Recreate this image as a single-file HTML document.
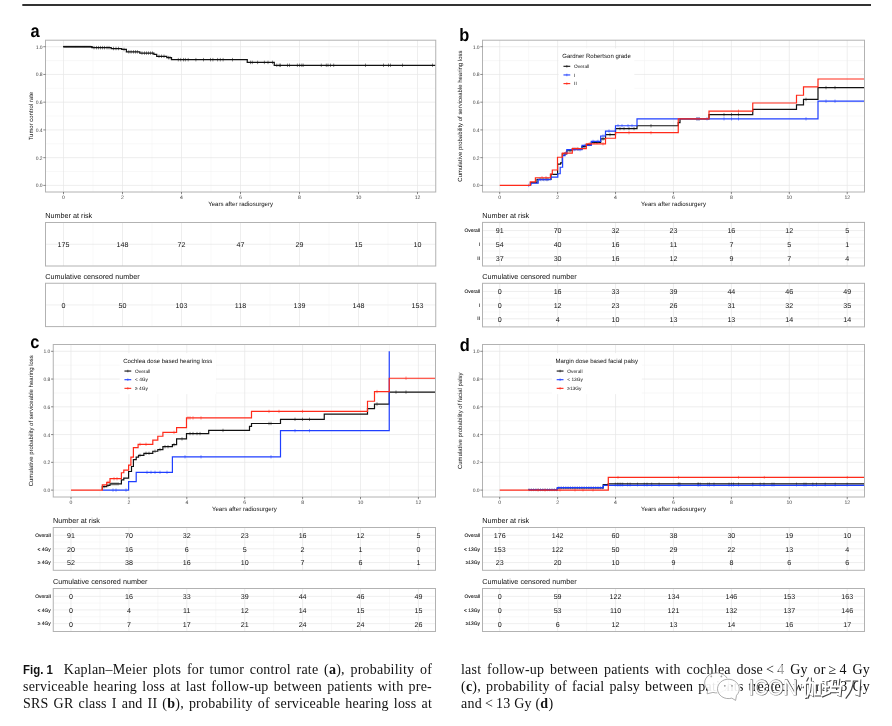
<!DOCTYPE html>
<html><head><meta charset="utf-8"><title>Fig. 1</title>
<style>
html,body{margin:0;padding:0;background:#fff;}
body{width:892px;height:726px;position:relative;overflow:hidden;font-family:"Liberation Sans", sans-serif;}
.cap{position:absolute;font-family:"Liberation Serif",serif;font-size:14px;line-height:17px;color:#111;letter-spacing:0.22px;}
.cap b.s{font-family:"Liberation Sans", sans-serif;font-weight:bold;font-size:13px;letter-spacing:0;display:inline-block;transform:scaleX(0.88);transform-origin:0 50%;margin-right:-4.5px;}
.ln{position:absolute;left:0;width:409px;white-space:nowrap;text-align:justify;text-align-last:justify;}
.ln.l{text-align:left;text-align-last:left;}
</style></head>
<body>
<svg width="892" height="726" viewBox="0 0 892 726" style="position:absolute;left:0;top:0;will-change:transform" text-rendering="geometricPrecision" font-family='"Liberation Sans", sans-serif'>
<rect x="22.3" y="4.2" width="848.7" height="1.6" fill="#000"/>
<g shape-rendering="auto">
<line x1="45.5" x2="435.75" y1="171.53" y2="171.53" stroke="#f1f1f1" stroke-width="0.5"/>
<line x1="45.5" x2="435.75" y1="143.79" y2="143.79" stroke="#f1f1f1" stroke-width="0.5"/>
<line x1="45.5" x2="435.75" y1="116.05" y2="116.05" stroke="#f1f1f1" stroke-width="0.5"/>
<line x1="45.5" x2="435.75" y1="88.31" y2="88.31" stroke="#f1f1f1" stroke-width="0.5"/>
<line x1="45.5" x2="435.75" y1="60.57" y2="60.57" stroke="#f1f1f1" stroke-width="0.5"/>
<line x1="93" x2="93" y1="40.2" y2="192" stroke="#f1f1f1" stroke-width="0.5"/>
<line x1="152" x2="152" y1="40.2" y2="192" stroke="#f1f1f1" stroke-width="0.5"/>
<line x1="211" x2="211" y1="40.2" y2="192" stroke="#f1f1f1" stroke-width="0.5"/>
<line x1="270" x2="270" y1="40.2" y2="192" stroke="#f1f1f1" stroke-width="0.5"/>
<line x1="329" x2="329" y1="40.2" y2="192" stroke="#f1f1f1" stroke-width="0.5"/>
<line x1="388" x2="388" y1="40.2" y2="192" stroke="#f1f1f1" stroke-width="0.5"/>
<line x1="45.5" x2="435.75" y1="185.4" y2="185.4" stroke="#e6e6e6" stroke-width="0.7"/>
<line x1="45.5" x2="435.75" y1="157.66" y2="157.66" stroke="#e6e6e6" stroke-width="0.7"/>
<line x1="45.5" x2="435.75" y1="129.92" y2="129.92" stroke="#e6e6e6" stroke-width="0.7"/>
<line x1="45.5" x2="435.75" y1="102.18" y2="102.18" stroke="#e6e6e6" stroke-width="0.7"/>
<line x1="45.5" x2="435.75" y1="74.44" y2="74.44" stroke="#e6e6e6" stroke-width="0.7"/>
<line x1="45.5" x2="435.75" y1="46.7" y2="46.7" stroke="#e6e6e6" stroke-width="0.7"/>
<line x1="63.5" x2="63.5" y1="40.2" y2="192" stroke="#e6e6e6" stroke-width="0.7"/>
<line x1="122.5" x2="122.5" y1="40.2" y2="192" stroke="#e6e6e6" stroke-width="0.7"/>
<line x1="181.5" x2="181.5" y1="40.2" y2="192" stroke="#e6e6e6" stroke-width="0.7"/>
<line x1="240.5" x2="240.5" y1="40.2" y2="192" stroke="#e6e6e6" stroke-width="0.7"/>
<line x1="299.5" x2="299.5" y1="40.2" y2="192" stroke="#e6e6e6" stroke-width="0.7"/>
<line x1="358.5" x2="358.5" y1="40.2" y2="192" stroke="#e6e6e6" stroke-width="0.7"/>
<line x1="417.5" x2="417.5" y1="40.2" y2="192" stroke="#e6e6e6" stroke-width="0.7"/>
</g>
<path d="M63.3 46.7H91.9V47.67" fill="none" stroke="#111" stroke-width="1.25" stroke-linejoin="miter"/>
<path d="M63.8 45.75V47.65M64.7 45.75V47.65M65.6 45.75V47.65M66.5 45.75V47.65M67.4 45.75V47.65M68.3 45.75V47.65M69.2 45.75V47.65M70.1 45.75V47.65M71 45.75V47.65M71.9 45.75V47.65M72.8 45.75V47.65M73.7 45.75V47.65M74.6 45.75V47.65M75.5 45.75V47.65M76.4 45.75V47.65M77.3 45.75V47.65M78.2 45.75V47.65M79.1 45.75V47.65M80 45.75V47.65M80.9 45.75V47.65M81.8 45.75V47.65M82.7 45.75V47.65M83.6 45.75V47.65M84.5 45.75V47.65M85.4 45.75V47.65M86.3 45.75V47.65M87.2 45.75V47.65M88.1 45.75V47.65M89 45.75V47.65M89.9 45.75V47.65M90.8 45.75V47.65" fill="none" stroke="#111" stroke-width="0.5"/>
<path d="M63.3 46.7H91.9V47.67H111.2V48.5H121.7V49.47H126.4V51.83H139.8V53.08H153.9V54.33H156.7V56.27H166.8V57.66H171.5V59.67H247.25V62.4H274.25V65.29H435.5" fill="none" stroke="#111" stroke-width="1.25" stroke-linejoin="miter"/>
<path d="M94 45.92V49.42M96.5 45.92V49.42M98.5 45.92V49.42M100.5 45.92V49.42M102.5 45.92V49.42M104.5 45.92V49.42M107 45.92V49.42M109 45.92V49.42M113.5 46.75V50.25M116 46.75V50.25M118.5 46.75V50.25M124 47.72V51.22M128.8 50.08V53.58M131.1 50.08V53.58M133.5 50.08V53.58M135.5 50.08V53.58M137.4 50.08V53.58M142 51.33V54.83M144.5 51.33V54.83M146.5 51.33V54.83M148.5 51.33V54.83M150.5 51.33V54.83M152.5 51.33V54.83M159 54.52V58.02M161.5 54.52V58.02M164 54.52V58.02M168.5 55.91V59.41M170 55.91V59.41M178.3 57.92V61.42M180.7 57.92V61.42M183.5 57.92V61.42M185.4 57.92V61.42M188.2 57.92V61.42M195.9 57.92V61.42M203.5 57.92V61.42M210.5 57.92V61.42M212.9 57.92V61.42M217.6 57.92V61.42M220.3 57.92V61.42M223.1 57.92V61.42M232.5 57.92V61.42M250.5 60.65V64.15M252.3 60.65V64.15M257.6 60.65V64.15M264.4 60.65V64.15M268 60.65V64.15M272.5 60.65V64.15M276.8 63.54V67.04M279.3 63.54V67.04M280.5 63.54V67.04M287.5 63.54V67.04M289.5 63.54V67.04M297.4 63.54V67.04M299.6 63.54V67.04M301.8 63.54V67.04M303.2 63.54V67.04M321.3 63.54V67.04M326.3 63.54V67.04M328 63.54V67.04M330.5 63.54V67.04M333.7 63.54V67.04M365.5 63.54V67.04M383.5 63.54V67.04M388.5 63.54V67.04M390.5 63.54V67.04M402.5 63.54V67.04M432.5 63.54V67.04" fill="none" stroke="#111" stroke-width="0.5"/>
<rect x="45.5" y="40.2" width="390.25" height="151.8" fill="none" stroke="#b2b2b2" stroke-width="1"/>
<line x1="43.3" x2="45.5" y1="185.4" y2="185.4" stroke="#3c3c3c" stroke-width="0.6"/>
<text x="42.6" y="187.4" font-size="5" fill="#3c3c3c" text-anchor="end">0.0</text>
<line x1="43.3" x2="45.5" y1="157.66" y2="157.66" stroke="#3c3c3c" stroke-width="0.6"/>
<text x="42.6" y="159.66" font-size="5" fill="#3c3c3c" text-anchor="end">0.2</text>
<line x1="43.3" x2="45.5" y1="129.92" y2="129.92" stroke="#3c3c3c" stroke-width="0.6"/>
<text x="42.6" y="131.92" font-size="5" fill="#3c3c3c" text-anchor="end">0.4</text>
<line x1="43.3" x2="45.5" y1="102.18" y2="102.18" stroke="#3c3c3c" stroke-width="0.6"/>
<text x="42.6" y="104.18" font-size="5" fill="#3c3c3c" text-anchor="end">0.6</text>
<line x1="43.3" x2="45.5" y1="74.44" y2="74.44" stroke="#3c3c3c" stroke-width="0.6"/>
<text x="42.6" y="76.44" font-size="5" fill="#3c3c3c" text-anchor="end">0.8</text>
<line x1="43.3" x2="45.5" y1="46.7" y2="46.7" stroke="#3c3c3c" stroke-width="0.6"/>
<text x="42.6" y="48.7" font-size="5" fill="#3c3c3c" text-anchor="end">1.0</text>
<line x1="63.5" x2="63.5" y1="192" y2="194.2" stroke="#3c3c3c" stroke-width="0.6"/>
<text x="63.5" y="198.6" font-size="5.1" fill="#3c3c3c" text-anchor="middle">0</text>
<line x1="122.5" x2="122.5" y1="192" y2="194.2" stroke="#3c3c3c" stroke-width="0.6"/>
<text x="122.5" y="198.6" font-size="5.1" fill="#3c3c3c" text-anchor="middle">2</text>
<line x1="181.5" x2="181.5" y1="192" y2="194.2" stroke="#3c3c3c" stroke-width="0.6"/>
<text x="181.5" y="198.6" font-size="5.1" fill="#3c3c3c" text-anchor="middle">4</text>
<line x1="240.5" x2="240.5" y1="192" y2="194.2" stroke="#3c3c3c" stroke-width="0.6"/>
<text x="240.5" y="198.6" font-size="5.1" fill="#3c3c3c" text-anchor="middle">6</text>
<line x1="299.5" x2="299.5" y1="192" y2="194.2" stroke="#3c3c3c" stroke-width="0.6"/>
<text x="299.5" y="198.6" font-size="5.1" fill="#3c3c3c" text-anchor="middle">8</text>
<line x1="358.5" x2="358.5" y1="192" y2="194.2" stroke="#3c3c3c" stroke-width="0.6"/>
<text x="358.5" y="198.6" font-size="5.1" fill="#3c3c3c" text-anchor="middle">10</text>
<line x1="417.5" x2="417.5" y1="192" y2="194.2" stroke="#3c3c3c" stroke-width="0.6"/>
<text x="417.5" y="198.6" font-size="5.1" fill="#3c3c3c" text-anchor="middle">12</text>
<text x="240.62" y="205.5" font-size="6.12" fill="#111" text-anchor="middle">Years after radiosurgery</text>
<text transform="translate(33.3 116.1) rotate(-90)" font-size="5.97" fill="#111" text-anchor="middle">Tumor control rate</text>
<text transform="translate(30.5 37) scale(0.91 1)" font-size="18" font-weight="bold" fill="#000">a</text>
<text x="45.2" y="218.3" font-size="7.24" fill="#111">Number at risk</text>
<line x1="93" x2="93" y1="222.5" y2="266" stroke="#f1f1f1" stroke-width="0.5"/>
<line x1="152" x2="152" y1="222.5" y2="266" stroke="#f1f1f1" stroke-width="0.5"/>
<line x1="211" x2="211" y1="222.5" y2="266" stroke="#f1f1f1" stroke-width="0.5"/>
<line x1="270" x2="270" y1="222.5" y2="266" stroke="#f1f1f1" stroke-width="0.5"/>
<line x1="329" x2="329" y1="222.5" y2="266" stroke="#f1f1f1" stroke-width="0.5"/>
<line x1="388" x2="388" y1="222.5" y2="266" stroke="#f1f1f1" stroke-width="0.5"/>
<line x1="63.5" x2="63.5" y1="222.5" y2="266" stroke="#e6e6e6" stroke-width="0.7"/>
<line x1="122.5" x2="122.5" y1="222.5" y2="266" stroke="#e6e6e6" stroke-width="0.7"/>
<line x1="181.5" x2="181.5" y1="222.5" y2="266" stroke="#e6e6e6" stroke-width="0.7"/>
<line x1="240.5" x2="240.5" y1="222.5" y2="266" stroke="#e6e6e6" stroke-width="0.7"/>
<line x1="299.5" x2="299.5" y1="222.5" y2="266" stroke="#e6e6e6" stroke-width="0.7"/>
<line x1="358.5" x2="358.5" y1="222.5" y2="266" stroke="#e6e6e6" stroke-width="0.7"/>
<line x1="417.5" x2="417.5" y1="222.5" y2="266" stroke="#e6e6e6" stroke-width="0.7"/>
<line x1="45.5" x2="435.75" y1="244.25" y2="244.25" stroke="#e6e6e6" stroke-width="0.7"/>
<rect x="45.5" y="222.5" width="390.25" height="43.5" fill="none" stroke="#b2b2b2" stroke-width="1"/>
<text x="63.5" y="247.1" font-size="7.1" fill="#111" text-anchor="middle">175</text>
<text x="122.5" y="247.1" font-size="7.1" fill="#111" text-anchor="middle">148</text>
<text x="181.5" y="247.1" font-size="7.1" fill="#111" text-anchor="middle">72</text>
<text x="240.5" y="247.1" font-size="7.1" fill="#111" text-anchor="middle">47</text>
<text x="299.5" y="247.1" font-size="7.1" fill="#111" text-anchor="middle">29</text>
<text x="358.5" y="247.1" font-size="7.1" fill="#111" text-anchor="middle">15</text>
<text x="417.5" y="247.1" font-size="7.1" fill="#111" text-anchor="middle">10</text>
<text x="45.2" y="279.05" font-size="7.24" fill="#111">Cumulative censored number</text>
<line x1="93" x2="93" y1="283.25" y2="326.6" stroke="#f1f1f1" stroke-width="0.5"/>
<line x1="152" x2="152" y1="283.25" y2="326.6" stroke="#f1f1f1" stroke-width="0.5"/>
<line x1="211" x2="211" y1="283.25" y2="326.6" stroke="#f1f1f1" stroke-width="0.5"/>
<line x1="270" x2="270" y1="283.25" y2="326.6" stroke="#f1f1f1" stroke-width="0.5"/>
<line x1="329" x2="329" y1="283.25" y2="326.6" stroke="#f1f1f1" stroke-width="0.5"/>
<line x1="388" x2="388" y1="283.25" y2="326.6" stroke="#f1f1f1" stroke-width="0.5"/>
<line x1="63.5" x2="63.5" y1="283.25" y2="326.6" stroke="#e6e6e6" stroke-width="0.7"/>
<line x1="122.5" x2="122.5" y1="283.25" y2="326.6" stroke="#e6e6e6" stroke-width="0.7"/>
<line x1="181.5" x2="181.5" y1="283.25" y2="326.6" stroke="#e6e6e6" stroke-width="0.7"/>
<line x1="240.5" x2="240.5" y1="283.25" y2="326.6" stroke="#e6e6e6" stroke-width="0.7"/>
<line x1="299.5" x2="299.5" y1="283.25" y2="326.6" stroke="#e6e6e6" stroke-width="0.7"/>
<line x1="358.5" x2="358.5" y1="283.25" y2="326.6" stroke="#e6e6e6" stroke-width="0.7"/>
<line x1="417.5" x2="417.5" y1="283.25" y2="326.6" stroke="#e6e6e6" stroke-width="0.7"/>
<line x1="45.5" x2="435.75" y1="304.93" y2="304.93" stroke="#e6e6e6" stroke-width="0.7"/>
<rect x="45.5" y="283.25" width="390.25" height="43.35" fill="none" stroke="#b2b2b2" stroke-width="1"/>
<text x="63.5" y="307.78" font-size="7.1" fill="#111" text-anchor="middle">0</text>
<text x="122.5" y="307.78" font-size="7.1" fill="#111" text-anchor="middle">50</text>
<text x="181.5" y="307.78" font-size="7.1" fill="#111" text-anchor="middle">103</text>
<text x="240.5" y="307.78" font-size="7.1" fill="#111" text-anchor="middle">118</text>
<text x="299.5" y="307.78" font-size="7.1" fill="#111" text-anchor="middle">139</text>
<text x="358.5" y="307.78" font-size="7.1" fill="#111" text-anchor="middle">148</text>
<text x="417.5" y="307.78" font-size="7.1" fill="#111" text-anchor="middle">153</text>
<g shape-rendering="auto">
<line x1="482.5" x2="864.5" y1="171.53" y2="171.53" stroke="#f1f1f1" stroke-width="0.5"/>
<line x1="482.5" x2="864.5" y1="143.79" y2="143.79" stroke="#f1f1f1" stroke-width="0.5"/>
<line x1="482.5" x2="864.5" y1="116.05" y2="116.05" stroke="#f1f1f1" stroke-width="0.5"/>
<line x1="482.5" x2="864.5" y1="88.31" y2="88.31" stroke="#f1f1f1" stroke-width="0.5"/>
<line x1="482.5" x2="864.5" y1="60.57" y2="60.57" stroke="#f1f1f1" stroke-width="0.5"/>
<line x1="528.66" x2="528.66" y1="40.2" y2="192" stroke="#f1f1f1" stroke-width="0.5"/>
<line x1="586.58" x2="586.58" y1="40.2" y2="192" stroke="#f1f1f1" stroke-width="0.5"/>
<line x1="644.5" x2="644.5" y1="40.2" y2="192" stroke="#f1f1f1" stroke-width="0.5"/>
<line x1="702.42" x2="702.42" y1="40.2" y2="192" stroke="#f1f1f1" stroke-width="0.5"/>
<line x1="760.34" x2="760.34" y1="40.2" y2="192" stroke="#f1f1f1" stroke-width="0.5"/>
<line x1="818.26" x2="818.26" y1="40.2" y2="192" stroke="#f1f1f1" stroke-width="0.5"/>
<line x1="482.5" x2="864.5" y1="185.4" y2="185.4" stroke="#e6e6e6" stroke-width="0.7"/>
<line x1="482.5" x2="864.5" y1="157.66" y2="157.66" stroke="#e6e6e6" stroke-width="0.7"/>
<line x1="482.5" x2="864.5" y1="129.92" y2="129.92" stroke="#e6e6e6" stroke-width="0.7"/>
<line x1="482.5" x2="864.5" y1="102.18" y2="102.18" stroke="#e6e6e6" stroke-width="0.7"/>
<line x1="482.5" x2="864.5" y1="74.44" y2="74.44" stroke="#e6e6e6" stroke-width="0.7"/>
<line x1="482.5" x2="864.5" y1="46.7" y2="46.7" stroke="#e6e6e6" stroke-width="0.7"/>
<line x1="499.7" x2="499.7" y1="40.2" y2="192" stroke="#e6e6e6" stroke-width="0.7"/>
<line x1="557.62" x2="557.62" y1="40.2" y2="192" stroke="#e6e6e6" stroke-width="0.7"/>
<line x1="615.54" x2="615.54" y1="40.2" y2="192" stroke="#e6e6e6" stroke-width="0.7"/>
<line x1="673.46" x2="673.46" y1="40.2" y2="192" stroke="#e6e6e6" stroke-width="0.7"/>
<line x1="731.38" x2="731.38" y1="40.2" y2="192" stroke="#e6e6e6" stroke-width="0.7"/>
<line x1="789.3" x2="789.3" y1="40.2" y2="192" stroke="#e6e6e6" stroke-width="0.7"/>
<line x1="847.22" x2="847.22" y1="40.2" y2="192" stroke="#e6e6e6" stroke-width="0.7"/>
</g>
<rect x="558.75" y="48.4" width="75.6" height="41" fill="#fff"/>
<text x="562.25" y="58.1" font-size="6.03" fill="#111">Gardner Robertson grade</text>
<line x1="563.45" x2="570.25" y1="66.3" y2="66.3" stroke="#111" stroke-width="1.1"/>
<line x1="566.85" x2="566.85" y1="65" y2="67.6" stroke="#111" stroke-width="0.6"/>
<text x="574.05" y="67.9" font-size="4.8" fill="#111">Overall</text>
<line x1="563.45" x2="570.25" y1="74.95" y2="74.95" stroke="#1f3fff" stroke-width="1.1"/>
<line x1="566.85" x2="566.85" y1="73.65" y2="76.25" stroke="#1f3fff" stroke-width="0.6"/>
<text x="574.05" y="76.55" font-size="4.8" fill="#111">I</text>
<line x1="563.45" x2="570.25" y1="83.6" y2="83.6" stroke="#ff2a1a" stroke-width="1.1"/>
<line x1="566.85" x2="566.85" y1="82.3" y2="84.9" stroke="#ff2a1a" stroke-width="0.6"/>
<text x="574.05" y="85.2" font-size="4.8" fill="#111">II</text>
<path d="M530.5 185.4H530.5V182.63H537V179.3H551V174.3H557.6V164.18H560.6V162.79H562.3V153.78H566.8V150.73H572.3V149.06H582V146.56H586.3V144.48H591.3V142.4H600.7V138.94H605.5V134.64H615.5V128.53H637V125.76H678.25V122.71H680V118.82H709V114.66H752.75V109.39H796.5V104.95H803.5V99.41H818V87.62H864.3" fill="none" stroke="#111" stroke-width="1.2" stroke-linejoin="miter"/>
<path d="M540 177.6V181M543 177.6V181M546 177.6V181M548 177.6V181M565 152.08V155.48M570 149.03V152.43M575 147.36V150.76M578 147.36V150.76M584 144.86V148.26M589 142.78V146.18M594 140.7V144.1M597 140.7V144.1M603 137.24V140.64M610 132.94V136.34M620 126.83V130.23M624 126.83V130.23M629 126.83V130.23M634 126.83V130.23M651 124.06V127.46M697 117.12V120.52M699 117.12V120.52M724 112.96V116.36M731.5 112.96V116.36M738.5 112.96V116.36M806 97.71V101.11M826 85.92V89.32M835 85.92V89.32" fill="none" stroke="#111" stroke-width="0.5"/>
<path d="M531 185.4H531V183.04H538.2V179.57H550.6V177.22H557.8V173.75H560.2V167.23H562.6V155.58H565V153.22H566.8V149.62H582V145.45H591.3V141.43H600.7V136.02H605.5V131.03H615.5V125.76H637V118.82H818V101.21H864.3" fill="none" stroke="#1f3fff" stroke-width="1.2" stroke-linejoin="miter"/>
<path d="M528.7 183.7V187.1M541 177.87V181.27M544 177.87V181.27M547 177.87V181.27M566 151.52V154.92M574 147.92V151.32M580 147.92V151.32M585 143.75V147.15M593 139.73V143.13M598 139.73V143.13M603 134.32V137.72M609 129.33V132.73M618 124.06V127.46M622 124.06V127.46M628 124.06V127.46M632 124.06V127.46M697 117.12V120.52M699 117.12V120.52M707 117.12V120.52M724 117.12V120.52M731.5 117.12V120.52M738.5 117.12V120.52M806 117.12V120.52M826 99.51V102.91M835 99.51V102.91" fill="none" stroke="#1f3fff" stroke-width="0.5"/>
<path d="M499.7 185.4H530.3V181.79H535.4V177.77H550.4V174.17H552.3V170H557.5V157.24H562.3V153.08H572.3V148.64H586.3V143.79H605.5V138.24H615.5V132.69H678.25V118.82H709V111.2H752.75V103.01H796.5V95.25H803.5V86.92H818V79.02H864.3" fill="none" stroke="#ff2a1a" stroke-width="1.2" stroke-linejoin="miter"/>
<path d="M542 176.07V179.47M546 176.07V179.47M566 151.38V154.78M573 146.94V150.34M577 146.94V150.34M590 142.09V145.49M603 142.09V145.49M629 130.99V134.39M651 130.99V134.39M738.5 109.5V112.9" fill="none" stroke="#ff2a1a" stroke-width="0.5"/>
<rect x="482.5" y="40.2" width="382" height="151.8" fill="none" stroke="#b2b2b2" stroke-width="1"/>
<line x1="480.3" x2="482.5" y1="185.4" y2="185.4" stroke="#3c3c3c" stroke-width="0.6"/>
<text x="479.6" y="187.4" font-size="5" fill="#3c3c3c" text-anchor="end">0.0</text>
<line x1="480.3" x2="482.5" y1="157.66" y2="157.66" stroke="#3c3c3c" stroke-width="0.6"/>
<text x="479.6" y="159.66" font-size="5" fill="#3c3c3c" text-anchor="end">0.2</text>
<line x1="480.3" x2="482.5" y1="129.92" y2="129.92" stroke="#3c3c3c" stroke-width="0.6"/>
<text x="479.6" y="131.92" font-size="5" fill="#3c3c3c" text-anchor="end">0.4</text>
<line x1="480.3" x2="482.5" y1="102.18" y2="102.18" stroke="#3c3c3c" stroke-width="0.6"/>
<text x="479.6" y="104.18" font-size="5" fill="#3c3c3c" text-anchor="end">0.6</text>
<line x1="480.3" x2="482.5" y1="74.44" y2="74.44" stroke="#3c3c3c" stroke-width="0.6"/>
<text x="479.6" y="76.44" font-size="5" fill="#3c3c3c" text-anchor="end">0.8</text>
<line x1="480.3" x2="482.5" y1="46.7" y2="46.7" stroke="#3c3c3c" stroke-width="0.6"/>
<text x="479.6" y="48.7" font-size="5" fill="#3c3c3c" text-anchor="end">1.0</text>
<line x1="499.7" x2="499.7" y1="192" y2="194.2" stroke="#3c3c3c" stroke-width="0.6"/>
<text x="499.7" y="198.6" font-size="5.1" fill="#3c3c3c" text-anchor="middle">0</text>
<line x1="557.62" x2="557.62" y1="192" y2="194.2" stroke="#3c3c3c" stroke-width="0.6"/>
<text x="557.62" y="198.6" font-size="5.1" fill="#3c3c3c" text-anchor="middle">2</text>
<line x1="615.54" x2="615.54" y1="192" y2="194.2" stroke="#3c3c3c" stroke-width="0.6"/>
<text x="615.54" y="198.6" font-size="5.1" fill="#3c3c3c" text-anchor="middle">4</text>
<line x1="673.46" x2="673.46" y1="192" y2="194.2" stroke="#3c3c3c" stroke-width="0.6"/>
<text x="673.46" y="198.6" font-size="5.1" fill="#3c3c3c" text-anchor="middle">6</text>
<line x1="731.38" x2="731.38" y1="192" y2="194.2" stroke="#3c3c3c" stroke-width="0.6"/>
<text x="731.38" y="198.6" font-size="5.1" fill="#3c3c3c" text-anchor="middle">8</text>
<line x1="789.3" x2="789.3" y1="192" y2="194.2" stroke="#3c3c3c" stroke-width="0.6"/>
<text x="789.3" y="198.6" font-size="5.1" fill="#3c3c3c" text-anchor="middle">10</text>
<line x1="847.22" x2="847.22" y1="192" y2="194.2" stroke="#3c3c3c" stroke-width="0.6"/>
<text x="847.22" y="198.6" font-size="5.1" fill="#3c3c3c" text-anchor="middle">12</text>
<text x="673.5" y="205.5" font-size="6.12" fill="#111" text-anchor="middle">Years after radiosurgery</text>
<text transform="translate(461.7 116.1) rotate(-90)" font-size="5.97" fill="#111" text-anchor="middle">Cumulative probability of serviceable hearing loss</text>
<text transform="translate(459.3 40.9) scale(0.91 1)" font-size="18" font-weight="bold" fill="#000">b</text>
<text x="482.2" y="218.2" font-size="7.24" fill="#111">Number at risk</text>
<line x1="528.66" x2="528.66" y1="222.4" y2="266" stroke="#f1f1f1" stroke-width="0.5"/>
<line x1="586.58" x2="586.58" y1="222.4" y2="266" stroke="#f1f1f1" stroke-width="0.5"/>
<line x1="644.5" x2="644.5" y1="222.4" y2="266" stroke="#f1f1f1" stroke-width="0.5"/>
<line x1="702.42" x2="702.42" y1="222.4" y2="266" stroke="#f1f1f1" stroke-width="0.5"/>
<line x1="760.34" x2="760.34" y1="222.4" y2="266" stroke="#f1f1f1" stroke-width="0.5"/>
<line x1="818.26" x2="818.26" y1="222.4" y2="266" stroke="#f1f1f1" stroke-width="0.5"/>
<line x1="482.5" x2="864.5" y1="237.32" y2="237.32" stroke="#f1f1f1" stroke-width="0.5"/>
<line x1="482.5" x2="864.5" y1="250.97" y2="250.97" stroke="#f1f1f1" stroke-width="0.5"/>
<line x1="499.7" x2="499.7" y1="222.4" y2="266" stroke="#e6e6e6" stroke-width="0.7"/>
<line x1="557.62" x2="557.62" y1="222.4" y2="266" stroke="#e6e6e6" stroke-width="0.7"/>
<line x1="615.54" x2="615.54" y1="222.4" y2="266" stroke="#e6e6e6" stroke-width="0.7"/>
<line x1="673.46" x2="673.46" y1="222.4" y2="266" stroke="#e6e6e6" stroke-width="0.7"/>
<line x1="731.38" x2="731.38" y1="222.4" y2="266" stroke="#e6e6e6" stroke-width="0.7"/>
<line x1="789.3" x2="789.3" y1="222.4" y2="266" stroke="#e6e6e6" stroke-width="0.7"/>
<line x1="847.22" x2="847.22" y1="222.4" y2="266" stroke="#e6e6e6" stroke-width="0.7"/>
<line x1="482.5" x2="864.5" y1="230.55" y2="230.55" stroke="#e6e6e6" stroke-width="0.7"/>
<line x1="482.5" x2="864.5" y1="244.1" y2="244.1" stroke="#e6e6e6" stroke-width="0.7"/>
<line x1="482.5" x2="864.5" y1="257.85" y2="257.85" stroke="#e6e6e6" stroke-width="0.7"/>
<rect x="482.5" y="222.4" width="382" height="43.6" fill="none" stroke="#b2b2b2" stroke-width="1"/>
<text x="499.7" y="233.4" font-size="7.1" fill="#111" text-anchor="middle">91</text>
<text x="557.62" y="233.4" font-size="7.1" fill="#111" text-anchor="middle">70</text>
<text x="615.54" y="233.4" font-size="7.1" fill="#111" text-anchor="middle">32</text>
<text x="673.46" y="233.4" font-size="7.1" fill="#111" text-anchor="middle">23</text>
<text x="731.38" y="233.4" font-size="7.1" fill="#111" text-anchor="middle">16</text>
<text x="789.3" y="233.4" font-size="7.1" fill="#111" text-anchor="middle">12</text>
<text x="847.22" y="233.4" font-size="7.1" fill="#111" text-anchor="middle">5</text>
<text x="480" y="232.25" font-size="4.9" fill="#111" stroke="#111" stroke-width="0.1" text-anchor="end">Overall</text>
<text x="499.7" y="246.95" font-size="7.1" fill="#111" text-anchor="middle">54</text>
<text x="557.62" y="246.95" font-size="7.1" fill="#111" text-anchor="middle">40</text>
<text x="615.54" y="246.95" font-size="7.1" fill="#111" text-anchor="middle">16</text>
<text x="673.46" y="246.95" font-size="7.1" fill="#111" text-anchor="middle">11</text>
<text x="731.38" y="246.95" font-size="7.1" fill="#111" text-anchor="middle">7</text>
<text x="789.3" y="246.95" font-size="7.1" fill="#111" text-anchor="middle">5</text>
<text x="847.22" y="246.95" font-size="7.1" fill="#111" text-anchor="middle">1</text>
<text x="480" y="245.8" font-size="4.9" fill="#111" stroke="#111" stroke-width="0.1" text-anchor="end">I</text>
<text x="499.7" y="260.7" font-size="7.1" fill="#111" text-anchor="middle">37</text>
<text x="557.62" y="260.7" font-size="7.1" fill="#111" text-anchor="middle">30</text>
<text x="615.54" y="260.7" font-size="7.1" fill="#111" text-anchor="middle">16</text>
<text x="673.46" y="260.7" font-size="7.1" fill="#111" text-anchor="middle">12</text>
<text x="731.38" y="260.7" font-size="7.1" fill="#111" text-anchor="middle">9</text>
<text x="789.3" y="260.7" font-size="7.1" fill="#111" text-anchor="middle">7</text>
<text x="847.22" y="260.7" font-size="7.1" fill="#111" text-anchor="middle">4</text>
<text x="480" y="259.55" font-size="4.9" fill="#111" stroke="#111" stroke-width="0.1" text-anchor="end">II</text>
<text x="482.2" y="279.1" font-size="7.24" fill="#111">Cumulative censored number</text>
<line x1="528.66" x2="528.66" y1="283.3" y2="326.9" stroke="#f1f1f1" stroke-width="0.5"/>
<line x1="586.58" x2="586.58" y1="283.3" y2="326.9" stroke="#f1f1f1" stroke-width="0.5"/>
<line x1="644.5" x2="644.5" y1="283.3" y2="326.9" stroke="#f1f1f1" stroke-width="0.5"/>
<line x1="702.42" x2="702.42" y1="283.3" y2="326.9" stroke="#f1f1f1" stroke-width="0.5"/>
<line x1="760.34" x2="760.34" y1="283.3" y2="326.9" stroke="#f1f1f1" stroke-width="0.5"/>
<line x1="818.26" x2="818.26" y1="283.3" y2="326.9" stroke="#f1f1f1" stroke-width="0.5"/>
<line x1="482.5" x2="864.5" y1="298.23" y2="298.23" stroke="#f1f1f1" stroke-width="0.5"/>
<line x1="482.5" x2="864.5" y1="311.88" y2="311.88" stroke="#f1f1f1" stroke-width="0.5"/>
<line x1="499.7" x2="499.7" y1="283.3" y2="326.9" stroke="#e6e6e6" stroke-width="0.7"/>
<line x1="557.62" x2="557.62" y1="283.3" y2="326.9" stroke="#e6e6e6" stroke-width="0.7"/>
<line x1="615.54" x2="615.54" y1="283.3" y2="326.9" stroke="#e6e6e6" stroke-width="0.7"/>
<line x1="673.46" x2="673.46" y1="283.3" y2="326.9" stroke="#e6e6e6" stroke-width="0.7"/>
<line x1="731.38" x2="731.38" y1="283.3" y2="326.9" stroke="#e6e6e6" stroke-width="0.7"/>
<line x1="789.3" x2="789.3" y1="283.3" y2="326.9" stroke="#e6e6e6" stroke-width="0.7"/>
<line x1="847.22" x2="847.22" y1="283.3" y2="326.9" stroke="#e6e6e6" stroke-width="0.7"/>
<line x1="482.5" x2="864.5" y1="291.45" y2="291.45" stroke="#e6e6e6" stroke-width="0.7"/>
<line x1="482.5" x2="864.5" y1="305" y2="305" stroke="#e6e6e6" stroke-width="0.7"/>
<line x1="482.5" x2="864.5" y1="318.75" y2="318.75" stroke="#e6e6e6" stroke-width="0.7"/>
<rect x="482.5" y="283.3" width="382" height="43.6" fill="none" stroke="#b2b2b2" stroke-width="1"/>
<text x="499.7" y="294.3" font-size="7.1" fill="#111" text-anchor="middle">0</text>
<text x="557.62" y="294.3" font-size="7.1" fill="#111" text-anchor="middle">16</text>
<text x="615.54" y="294.3" font-size="7.1" fill="#111" text-anchor="middle">33</text>
<text x="673.46" y="294.3" font-size="7.1" fill="#111" text-anchor="middle">39</text>
<text x="731.38" y="294.3" font-size="7.1" fill="#111" text-anchor="middle">44</text>
<text x="789.3" y="294.3" font-size="7.1" fill="#111" text-anchor="middle">46</text>
<text x="847.22" y="294.3" font-size="7.1" fill="#111" text-anchor="middle">49</text>
<text x="480" y="293.15" font-size="4.9" fill="#111" stroke="#111" stroke-width="0.1" text-anchor="end">Overall</text>
<text x="499.7" y="307.85" font-size="7.1" fill="#111" text-anchor="middle">0</text>
<text x="557.62" y="307.85" font-size="7.1" fill="#111" text-anchor="middle">12</text>
<text x="615.54" y="307.85" font-size="7.1" fill="#111" text-anchor="middle">23</text>
<text x="673.46" y="307.85" font-size="7.1" fill="#111" text-anchor="middle">26</text>
<text x="731.38" y="307.85" font-size="7.1" fill="#111" text-anchor="middle">31</text>
<text x="789.3" y="307.85" font-size="7.1" fill="#111" text-anchor="middle">32</text>
<text x="847.22" y="307.85" font-size="7.1" fill="#111" text-anchor="middle">35</text>
<text x="480" y="306.7" font-size="4.9" fill="#111" stroke="#111" stroke-width="0.1" text-anchor="end">I</text>
<text x="499.7" y="321.6" font-size="7.1" fill="#111" text-anchor="middle">0</text>
<text x="557.62" y="321.6" font-size="7.1" fill="#111" text-anchor="middle">4</text>
<text x="615.54" y="321.6" font-size="7.1" fill="#111" text-anchor="middle">10</text>
<text x="673.46" y="321.6" font-size="7.1" fill="#111" text-anchor="middle">13</text>
<text x="731.38" y="321.6" font-size="7.1" fill="#111" text-anchor="middle">13</text>
<text x="789.3" y="321.6" font-size="7.1" fill="#111" text-anchor="middle">14</text>
<text x="847.22" y="321.6" font-size="7.1" fill="#111" text-anchor="middle">14</text>
<text x="480" y="320.45" font-size="4.9" fill="#111" stroke="#111" stroke-width="0.1" text-anchor="end">II</text>
<g shape-rendering="auto">
<line x1="53.25" x2="435.5" y1="476.22" y2="476.22" stroke="#f1f1f1" stroke-width="0.5"/>
<line x1="53.25" x2="435.5" y1="448.46" y2="448.46" stroke="#f1f1f1" stroke-width="0.5"/>
<line x1="53.25" x2="435.5" y1="420.7" y2="420.7" stroke="#f1f1f1" stroke-width="0.5"/>
<line x1="53.25" x2="435.5" y1="392.94" y2="392.94" stroke="#f1f1f1" stroke-width="0.5"/>
<line x1="53.25" x2="435.5" y1="365.18" y2="365.18" stroke="#f1f1f1" stroke-width="0.5"/>
<line x1="99.95" x2="99.95" y1="344.5" y2="497" stroke="#f1f1f1" stroke-width="0.5"/>
<line x1="157.85" x2="157.85" y1="344.5" y2="497" stroke="#f1f1f1" stroke-width="0.5"/>
<line x1="215.75" x2="215.75" y1="344.5" y2="497" stroke="#f1f1f1" stroke-width="0.5"/>
<line x1="273.65" x2="273.65" y1="344.5" y2="497" stroke="#f1f1f1" stroke-width="0.5"/>
<line x1="331.55" x2="331.55" y1="344.5" y2="497" stroke="#f1f1f1" stroke-width="0.5"/>
<line x1="389.45" x2="389.45" y1="344.5" y2="497" stroke="#f1f1f1" stroke-width="0.5"/>
<line x1="53.25" x2="435.5" y1="490.1" y2="490.1" stroke="#e6e6e6" stroke-width="0.7"/>
<line x1="53.25" x2="435.5" y1="462.34" y2="462.34" stroke="#e6e6e6" stroke-width="0.7"/>
<line x1="53.25" x2="435.5" y1="434.58" y2="434.58" stroke="#e6e6e6" stroke-width="0.7"/>
<line x1="53.25" x2="435.5" y1="406.82" y2="406.82" stroke="#e6e6e6" stroke-width="0.7"/>
<line x1="53.25" x2="435.5" y1="379.06" y2="379.06" stroke="#e6e6e6" stroke-width="0.7"/>
<line x1="53.25" x2="435.5" y1="351.3" y2="351.3" stroke="#e6e6e6" stroke-width="0.7"/>
<line x1="71" x2="71" y1="344.5" y2="497" stroke="#e6e6e6" stroke-width="0.7"/>
<line x1="128.9" x2="128.9" y1="344.5" y2="497" stroke="#e6e6e6" stroke-width="0.7"/>
<line x1="186.8" x2="186.8" y1="344.5" y2="497" stroke="#e6e6e6" stroke-width="0.7"/>
<line x1="244.7" x2="244.7" y1="344.5" y2="497" stroke="#e6e6e6" stroke-width="0.7"/>
<line x1="302.6" x2="302.6" y1="344.5" y2="497" stroke="#e6e6e6" stroke-width="0.7"/>
<line x1="360.5" x2="360.5" y1="344.5" y2="497" stroke="#e6e6e6" stroke-width="0.7"/>
<line x1="418.4" x2="418.4" y1="344.5" y2="497" stroke="#e6e6e6" stroke-width="0.7"/>
</g>
<rect x="119.75" y="353.15" width="96.3" height="41" fill="#fff"/>
<text x="123.25" y="362.85" font-size="6.03" fill="#111">Cochlea dose based hearing loss</text>
<line x1="124.45" x2="131.25" y1="371.05" y2="371.05" stroke="#111" stroke-width="1.1"/>
<line x1="127.85" x2="127.85" y1="369.75" y2="372.35" stroke="#111" stroke-width="0.6"/>
<text x="135.05" y="372.65" font-size="4.8" fill="#111">Overall</text>
<line x1="124.45" x2="131.25" y1="379.7" y2="379.7" stroke="#1f3fff" stroke-width="1.1"/>
<line x1="127.85" x2="127.85" y1="378.4" y2="381" stroke="#1f3fff" stroke-width="0.6"/>
<text x="135.05" y="381.3" font-size="4.8" fill="#111">&lt; 4Gy</text>
<line x1="124.45" x2="131.25" y1="388.35" y2="388.35" stroke="#ff2a1a" stroke-width="1.1"/>
<line x1="127.85" x2="127.85" y1="387.05" y2="389.65" stroke="#ff2a1a" stroke-width="0.6"/>
<text x="135.05" y="389.95" font-size="4.8" fill="#111">≥ 4Gy</text>
<path d="M102.3 490.1H102.3V486.63H106.7V485.38H110V483.85H121.4V479.97H123.8V478.16H128.6V471.5H131.5V466.5H133.4V459.56H136.2V457.2H138.5V455.4H143.9V453.32H152.8V451.24H157.8V449.57H162.9V446.66H172.4V444.71H176.6V438.88H186.5V433.61H208.7V430.42H249.5V426.39H251.5V423.48H280.5V419.31H324.25V414.18H367.5V408.62H374.5V404.04H389.25V392.11H435.3" fill="none" stroke="#111" stroke-width="1.2" stroke-linejoin="miter"/>
<path d="M104 484.93V488.33M108 483.68V487.08M112 482.15V485.55M114 482.15V485.55M116 482.15V485.55M118 482.15V485.55M140 453.7V457.1M146 451.62V455.02M149 451.62V455.02M155 449.54V452.94M160 447.87V451.27M165 444.96V448.36M168 444.96V448.36M174 443.01V446.41M182 437.18V440.58M190 431.91V435.31M193 431.91V435.31M197 431.91V435.31M200 431.91V435.31M223 428.72V432.12M269 421.78V425.18M271 421.78V425.18M295 417.61V421.01M302.5 417.61V421.01M309.5 417.61V421.01M377 402.34V405.74M396 390.41V393.81M406 390.41V393.81" fill="none" stroke="#111" stroke-width="0.5"/>
<path d="M102.3 490.1H102.3V490.1H128.6V481.63H136.2V472.33H172.4V456.79H280.5V430.69H389.25V351.3" fill="none" stroke="#1f3fff" stroke-width="1.2" stroke-linejoin="miter"/>
<path d="M113 488.4V491.8M116 488.4V491.8M126 488.4V491.8M147 470.63V474.03M151 470.63V474.03M155 470.63V474.03M160 470.63V474.03M167 470.63V474.03M185 455.09V458.49M201 455.09V458.49M271 455.09V458.49M295 428.99V432.39M309.5 428.99V432.39" fill="none" stroke="#1f3fff" stroke-width="0.5"/>
<path d="M71 490.1H102.3V484.83H106.7V482.33H110V478.72H121.4V472.75H123.8V470.11H128.6V465.12H130.9V457.2H133.4V447.63H138.1V444.3H152.8V440.13H157.8V436.25H162.9V432.36H176.6V427.64H186.5V417.92H251.5V411.4H367.5V401.27H374.5V391.55H389.25V378.23H435.3" fill="none" stroke="#ff2a1a" stroke-width="1.2" stroke-linejoin="miter"/>
<path d="M108 480.63V484.03M114 477.02V480.42M117 477.02V480.42M140 442.6V446M146 442.6V446M174 430.66V434.06M188 416.22V419.62M190 416.22V419.62M193 416.22V419.62M201 416.22V419.62M269 409.7V413.1M279 409.7V413.1M302.5 409.7V413.1M377 389.85V393.25M406 376.53V379.93" fill="none" stroke="#ff2a1a" stroke-width="0.5"/>
<rect x="53.25" y="344.5" width="382.25" height="152.5" fill="none" stroke="#b2b2b2" stroke-width="1"/>
<line x1="51.05" x2="53.25" y1="490.1" y2="490.1" stroke="#3c3c3c" stroke-width="0.6"/>
<text x="50.35" y="492.1" font-size="5" fill="#3c3c3c" text-anchor="end">0.0</text>
<line x1="51.05" x2="53.25" y1="462.34" y2="462.34" stroke="#3c3c3c" stroke-width="0.6"/>
<text x="50.35" y="464.34" font-size="5" fill="#3c3c3c" text-anchor="end">0.2</text>
<line x1="51.05" x2="53.25" y1="434.58" y2="434.58" stroke="#3c3c3c" stroke-width="0.6"/>
<text x="50.35" y="436.58" font-size="5" fill="#3c3c3c" text-anchor="end">0.4</text>
<line x1="51.05" x2="53.25" y1="406.82" y2="406.82" stroke="#3c3c3c" stroke-width="0.6"/>
<text x="50.35" y="408.82" font-size="5" fill="#3c3c3c" text-anchor="end">0.6</text>
<line x1="51.05" x2="53.25" y1="379.06" y2="379.06" stroke="#3c3c3c" stroke-width="0.6"/>
<text x="50.35" y="381.06" font-size="5" fill="#3c3c3c" text-anchor="end">0.8</text>
<line x1="51.05" x2="53.25" y1="351.3" y2="351.3" stroke="#3c3c3c" stroke-width="0.6"/>
<text x="50.35" y="353.3" font-size="5" fill="#3c3c3c" text-anchor="end">1.0</text>
<line x1="71" x2="71" y1="497" y2="499.2" stroke="#3c3c3c" stroke-width="0.6"/>
<text x="71" y="503.6" font-size="5.1" fill="#3c3c3c" text-anchor="middle">0</text>
<line x1="128.9" x2="128.9" y1="497" y2="499.2" stroke="#3c3c3c" stroke-width="0.6"/>
<text x="128.9" y="503.6" font-size="5.1" fill="#3c3c3c" text-anchor="middle">2</text>
<line x1="186.8" x2="186.8" y1="497" y2="499.2" stroke="#3c3c3c" stroke-width="0.6"/>
<text x="186.8" y="503.6" font-size="5.1" fill="#3c3c3c" text-anchor="middle">4</text>
<line x1="244.7" x2="244.7" y1="497" y2="499.2" stroke="#3c3c3c" stroke-width="0.6"/>
<text x="244.7" y="503.6" font-size="5.1" fill="#3c3c3c" text-anchor="middle">6</text>
<line x1="302.6" x2="302.6" y1="497" y2="499.2" stroke="#3c3c3c" stroke-width="0.6"/>
<text x="302.6" y="503.6" font-size="5.1" fill="#3c3c3c" text-anchor="middle">8</text>
<line x1="360.5" x2="360.5" y1="497" y2="499.2" stroke="#3c3c3c" stroke-width="0.6"/>
<text x="360.5" y="503.6" font-size="5.1" fill="#3c3c3c" text-anchor="middle">10</text>
<line x1="418.4" x2="418.4" y1="497" y2="499.2" stroke="#3c3c3c" stroke-width="0.6"/>
<text x="418.4" y="503.6" font-size="5.1" fill="#3c3c3c" text-anchor="middle">12</text>
<text x="244.38" y="510.5" font-size="6.12" fill="#111" text-anchor="middle">Years after radiosurgery</text>
<text transform="translate(33 420.75) rotate(-90)" font-size="5.97" fill="#111" text-anchor="middle">Cumulative probability of serviceable hearing loss</text>
<text transform="translate(30.3 347.9) scale(0.91 1)" font-size="18" font-weight="bold" fill="#000">c</text>
<text x="52.95" y="523.3" font-size="7.24" fill="#111">Number at risk</text>
<line x1="99.95" x2="99.95" y1="527.5" y2="570.3" stroke="#f1f1f1" stroke-width="0.5"/>
<line x1="157.85" x2="157.85" y1="527.5" y2="570.3" stroke="#f1f1f1" stroke-width="0.5"/>
<line x1="215.75" x2="215.75" y1="527.5" y2="570.3" stroke="#f1f1f1" stroke-width="0.5"/>
<line x1="273.65" x2="273.65" y1="527.5" y2="570.3" stroke="#f1f1f1" stroke-width="0.5"/>
<line x1="331.55" x2="331.55" y1="527.5" y2="570.3" stroke="#f1f1f1" stroke-width="0.5"/>
<line x1="389.45" x2="389.45" y1="527.5" y2="570.3" stroke="#f1f1f1" stroke-width="0.5"/>
<line x1="53.25" x2="435.5" y1="542.02" y2="542.02" stroke="#f1f1f1" stroke-width="0.5"/>
<line x1="53.25" x2="435.5" y1="555.67" y2="555.67" stroke="#f1f1f1" stroke-width="0.5"/>
<line x1="71" x2="71" y1="527.5" y2="570.3" stroke="#e6e6e6" stroke-width="0.7"/>
<line x1="128.9" x2="128.9" y1="527.5" y2="570.3" stroke="#e6e6e6" stroke-width="0.7"/>
<line x1="186.8" x2="186.8" y1="527.5" y2="570.3" stroke="#e6e6e6" stroke-width="0.7"/>
<line x1="244.7" x2="244.7" y1="527.5" y2="570.3" stroke="#e6e6e6" stroke-width="0.7"/>
<line x1="302.6" x2="302.6" y1="527.5" y2="570.3" stroke="#e6e6e6" stroke-width="0.7"/>
<line x1="360.5" x2="360.5" y1="527.5" y2="570.3" stroke="#e6e6e6" stroke-width="0.7"/>
<line x1="418.4" x2="418.4" y1="527.5" y2="570.3" stroke="#e6e6e6" stroke-width="0.7"/>
<line x1="53.25" x2="435.5" y1="535.25" y2="535.25" stroke="#e6e6e6" stroke-width="0.7"/>
<line x1="53.25" x2="435.5" y1="548.8" y2="548.8" stroke="#e6e6e6" stroke-width="0.7"/>
<line x1="53.25" x2="435.5" y1="562.55" y2="562.55" stroke="#e6e6e6" stroke-width="0.7"/>
<rect x="53.25" y="527.5" width="382.25" height="42.8" fill="none" stroke="#b2b2b2" stroke-width="1"/>
<text x="71" y="538.1" font-size="7.1" fill="#111" text-anchor="middle">91</text>
<text x="128.9" y="538.1" font-size="7.1" fill="#111" text-anchor="middle">70</text>
<text x="186.8" y="538.1" font-size="7.1" fill="#111" text-anchor="middle">32</text>
<text x="244.7" y="538.1" font-size="7.1" fill="#111" text-anchor="middle">23</text>
<text x="302.6" y="538.1" font-size="7.1" fill="#111" text-anchor="middle">16</text>
<text x="360.5" y="538.1" font-size="7.1" fill="#111" text-anchor="middle">12</text>
<text x="418.4" y="538.1" font-size="7.1" fill="#111" text-anchor="middle">5</text>
<text x="50.75" y="536.95" font-size="4.9" fill="#111" stroke="#111" stroke-width="0.1" text-anchor="end">Overall</text>
<text x="71" y="551.65" font-size="7.1" fill="#111" text-anchor="middle">20</text>
<text x="128.9" y="551.65" font-size="7.1" fill="#111" text-anchor="middle">16</text>
<text x="186.8" y="551.65" font-size="7.1" fill="#111" text-anchor="middle">6</text>
<text x="244.7" y="551.65" font-size="7.1" fill="#111" text-anchor="middle">5</text>
<text x="302.6" y="551.65" font-size="7.1" fill="#111" text-anchor="middle">2</text>
<text x="360.5" y="551.65" font-size="7.1" fill="#111" text-anchor="middle">1</text>
<text x="418.4" y="551.65" font-size="7.1" fill="#111" text-anchor="middle">0</text>
<text x="50.75" y="550.5" font-size="4.9" fill="#111" stroke="#111" stroke-width="0.1" text-anchor="end">&lt; 4Gy</text>
<text x="71" y="565.4" font-size="7.1" fill="#111" text-anchor="middle">52</text>
<text x="128.9" y="565.4" font-size="7.1" fill="#111" text-anchor="middle">38</text>
<text x="186.8" y="565.4" font-size="7.1" fill="#111" text-anchor="middle">16</text>
<text x="244.7" y="565.4" font-size="7.1" fill="#111" text-anchor="middle">10</text>
<text x="302.6" y="565.4" font-size="7.1" fill="#111" text-anchor="middle">7</text>
<text x="360.5" y="565.4" font-size="7.1" fill="#111" text-anchor="middle">6</text>
<text x="418.4" y="565.4" font-size="7.1" fill="#111" text-anchor="middle">1</text>
<text x="50.75" y="564.25" font-size="4.9" fill="#111" stroke="#111" stroke-width="0.1" text-anchor="end">≥ 4Gy</text>
<text x="52.95" y="584.3" font-size="7.24" fill="#111">Cumulative censored number</text>
<line x1="99.95" x2="99.95" y1="588.5" y2="631.5" stroke="#f1f1f1" stroke-width="0.5"/>
<line x1="157.85" x2="157.85" y1="588.5" y2="631.5" stroke="#f1f1f1" stroke-width="0.5"/>
<line x1="215.75" x2="215.75" y1="588.5" y2="631.5" stroke="#f1f1f1" stroke-width="0.5"/>
<line x1="273.65" x2="273.65" y1="588.5" y2="631.5" stroke="#f1f1f1" stroke-width="0.5"/>
<line x1="331.55" x2="331.55" y1="588.5" y2="631.5" stroke="#f1f1f1" stroke-width="0.5"/>
<line x1="389.45" x2="389.45" y1="588.5" y2="631.5" stroke="#f1f1f1" stroke-width="0.5"/>
<line x1="53.25" x2="435.5" y1="603.12" y2="603.12" stroke="#f1f1f1" stroke-width="0.5"/>
<line x1="53.25" x2="435.5" y1="616.77" y2="616.77" stroke="#f1f1f1" stroke-width="0.5"/>
<line x1="71" x2="71" y1="588.5" y2="631.5" stroke="#e6e6e6" stroke-width="0.7"/>
<line x1="128.9" x2="128.9" y1="588.5" y2="631.5" stroke="#e6e6e6" stroke-width="0.7"/>
<line x1="186.8" x2="186.8" y1="588.5" y2="631.5" stroke="#e6e6e6" stroke-width="0.7"/>
<line x1="244.7" x2="244.7" y1="588.5" y2="631.5" stroke="#e6e6e6" stroke-width="0.7"/>
<line x1="302.6" x2="302.6" y1="588.5" y2="631.5" stroke="#e6e6e6" stroke-width="0.7"/>
<line x1="360.5" x2="360.5" y1="588.5" y2="631.5" stroke="#e6e6e6" stroke-width="0.7"/>
<line x1="418.4" x2="418.4" y1="588.5" y2="631.5" stroke="#e6e6e6" stroke-width="0.7"/>
<line x1="53.25" x2="435.5" y1="596.35" y2="596.35" stroke="#e6e6e6" stroke-width="0.7"/>
<line x1="53.25" x2="435.5" y1="609.9" y2="609.9" stroke="#e6e6e6" stroke-width="0.7"/>
<line x1="53.25" x2="435.5" y1="623.65" y2="623.65" stroke="#e6e6e6" stroke-width="0.7"/>
<rect x="53.25" y="588.5" width="382.25" height="43" fill="none" stroke="#b2b2b2" stroke-width="1"/>
<text x="71" y="599.2" font-size="7.1" fill="#111" text-anchor="middle">0</text>
<text x="128.9" y="599.2" font-size="7.1" fill="#111" text-anchor="middle">16</text>
<text x="186.8" y="599.2" font-size="7.1" fill="#111" text-anchor="middle">33</text>
<text x="244.7" y="599.2" font-size="7.1" fill="#111" text-anchor="middle">39</text>
<text x="302.6" y="599.2" font-size="7.1" fill="#111" text-anchor="middle">44</text>
<text x="360.5" y="599.2" font-size="7.1" fill="#111" text-anchor="middle">46</text>
<text x="418.4" y="599.2" font-size="7.1" fill="#111" text-anchor="middle">49</text>
<text x="50.75" y="598.05" font-size="4.9" fill="#111" stroke="#111" stroke-width="0.1" text-anchor="end">Overall</text>
<text x="71" y="612.75" font-size="7.1" fill="#111" text-anchor="middle">0</text>
<text x="128.9" y="612.75" font-size="7.1" fill="#111" text-anchor="middle">4</text>
<text x="186.8" y="612.75" font-size="7.1" fill="#111" text-anchor="middle">11</text>
<text x="244.7" y="612.75" font-size="7.1" fill="#111" text-anchor="middle">12</text>
<text x="302.6" y="612.75" font-size="7.1" fill="#111" text-anchor="middle">14</text>
<text x="360.5" y="612.75" font-size="7.1" fill="#111" text-anchor="middle">15</text>
<text x="418.4" y="612.75" font-size="7.1" fill="#111" text-anchor="middle">15</text>
<text x="50.75" y="611.6" font-size="4.9" fill="#111" stroke="#111" stroke-width="0.1" text-anchor="end">&lt; 4Gy</text>
<text x="71" y="626.5" font-size="7.1" fill="#111" text-anchor="middle">0</text>
<text x="128.9" y="626.5" font-size="7.1" fill="#111" text-anchor="middle">7</text>
<text x="186.8" y="626.5" font-size="7.1" fill="#111" text-anchor="middle">17</text>
<text x="244.7" y="626.5" font-size="7.1" fill="#111" text-anchor="middle">21</text>
<text x="302.6" y="626.5" font-size="7.1" fill="#111" text-anchor="middle">24</text>
<text x="360.5" y="626.5" font-size="7.1" fill="#111" text-anchor="middle">24</text>
<text x="418.4" y="626.5" font-size="7.1" fill="#111" text-anchor="middle">26</text>
<text x="50.75" y="625.35" font-size="4.9" fill="#111" stroke="#111" stroke-width="0.1" text-anchor="end">≥ 4Gy</text>
<g shape-rendering="auto">
<line x1="482.5" x2="864.5" y1="476.22" y2="476.22" stroke="#f1f1f1" stroke-width="0.5"/>
<line x1="482.5" x2="864.5" y1="448.46" y2="448.46" stroke="#f1f1f1" stroke-width="0.5"/>
<line x1="482.5" x2="864.5" y1="420.7" y2="420.7" stroke="#f1f1f1" stroke-width="0.5"/>
<line x1="482.5" x2="864.5" y1="392.94" y2="392.94" stroke="#f1f1f1" stroke-width="0.5"/>
<line x1="482.5" x2="864.5" y1="365.18" y2="365.18" stroke="#f1f1f1" stroke-width="0.5"/>
<line x1="528.66" x2="528.66" y1="344.5" y2="497" stroke="#f1f1f1" stroke-width="0.5"/>
<line x1="586.58" x2="586.58" y1="344.5" y2="497" stroke="#f1f1f1" stroke-width="0.5"/>
<line x1="644.5" x2="644.5" y1="344.5" y2="497" stroke="#f1f1f1" stroke-width="0.5"/>
<line x1="702.42" x2="702.42" y1="344.5" y2="497" stroke="#f1f1f1" stroke-width="0.5"/>
<line x1="760.34" x2="760.34" y1="344.5" y2="497" stroke="#f1f1f1" stroke-width="0.5"/>
<line x1="818.26" x2="818.26" y1="344.5" y2="497" stroke="#f1f1f1" stroke-width="0.5"/>
<line x1="482.5" x2="864.5" y1="490.1" y2="490.1" stroke="#e6e6e6" stroke-width="0.7"/>
<line x1="482.5" x2="864.5" y1="462.34" y2="462.34" stroke="#e6e6e6" stroke-width="0.7"/>
<line x1="482.5" x2="864.5" y1="434.58" y2="434.58" stroke="#e6e6e6" stroke-width="0.7"/>
<line x1="482.5" x2="864.5" y1="406.82" y2="406.82" stroke="#e6e6e6" stroke-width="0.7"/>
<line x1="482.5" x2="864.5" y1="379.06" y2="379.06" stroke="#e6e6e6" stroke-width="0.7"/>
<line x1="482.5" x2="864.5" y1="351.3" y2="351.3" stroke="#e6e6e6" stroke-width="0.7"/>
<line x1="499.7" x2="499.7" y1="344.5" y2="497" stroke="#e6e6e6" stroke-width="0.7"/>
<line x1="557.62" x2="557.62" y1="344.5" y2="497" stroke="#e6e6e6" stroke-width="0.7"/>
<line x1="615.54" x2="615.54" y1="344.5" y2="497" stroke="#e6e6e6" stroke-width="0.7"/>
<line x1="673.46" x2="673.46" y1="344.5" y2="497" stroke="#e6e6e6" stroke-width="0.7"/>
<line x1="731.38" x2="731.38" y1="344.5" y2="497" stroke="#e6e6e6" stroke-width="0.7"/>
<line x1="789.3" x2="789.3" y1="344.5" y2="497" stroke="#e6e6e6" stroke-width="0.7"/>
<line x1="847.22" x2="847.22" y1="344.5" y2="497" stroke="#e6e6e6" stroke-width="0.7"/>
</g>
<rect x="552" y="353.15" width="89.8" height="41" fill="#fff"/>
<text x="555.5" y="362.85" font-size="6.03" fill="#111">Margin dose based facial palsy</text>
<line x1="556.7" x2="563.5" y1="371.05" y2="371.05" stroke="#111" stroke-width="1.1"/>
<line x1="560.1" x2="560.1" y1="369.75" y2="372.35" stroke="#111" stroke-width="0.6"/>
<text x="567.3" y="372.65" font-size="4.8" fill="#111">Overall</text>
<line x1="556.7" x2="563.5" y1="379.7" y2="379.7" stroke="#1f3fff" stroke-width="1.1"/>
<line x1="560.1" x2="560.1" y1="378.4" y2="381" stroke="#1f3fff" stroke-width="0.6"/>
<text x="567.3" y="381.3" font-size="4.8" fill="#111">&lt; 13Gy</text>
<line x1="556.7" x2="563.5" y1="388.35" y2="388.35" stroke="#ff2a1a" stroke-width="1.1"/>
<line x1="560.1" x2="560.1" y1="387.05" y2="389.65" stroke="#ff2a1a" stroke-width="0.6"/>
<text x="567.3" y="389.95" font-size="4.8" fill="#111">≥13Gy</text>
<path d="M529 490.1H529V489.82H557.4V487.88H603.3V484.55H608.3V483.78H864.3" fill="none" stroke="#111" stroke-width="1.3" stroke-linejoin="miter"/>
<path d="M529 488.52V491.12M531.3 488.52V491.12M533.6 488.52V491.12M535.9 488.52V491.12M538.2 488.52V491.12M540.5 488.52V491.12M542.8 488.52V491.12M545.1 488.52V491.12M547.4 488.52V491.12M549.7 488.52V491.12M552 488.52V491.12M554.3 488.52V491.12M556.6 488.52V491.12M558.9 486.58V489.18M561.2 486.58V489.18M563.5 486.58V489.18M565.8 486.58V489.18M568.1 486.58V489.18M570.4 486.58V489.18M572.7 486.58V489.18M575 486.58V489.18M577.3 486.58V489.18M579.6 486.58V489.18M581.9 486.58V489.18M584.2 486.58V489.18M586.5 486.58V489.18M588.8 486.58V489.18M591.1 486.58V489.18M593.4 486.58V489.18M595.7 486.58V489.18M598 486.58V489.18M600.3 486.58V489.18M602.6 486.58V489.18M615.3 482.48V485.08M617.4 482.48V485.08M619 482.48V485.08M620.8 482.48V485.08M622.7 482.48V485.08M627.6 482.48V485.08M630.1 482.48V485.08M637.5 482.48V485.08M644.3 482.48V485.08M647 482.48V485.08M651.7 482.48V485.08M659.1 482.48V485.08M678.2 482.48V485.08M679 482.48V485.08M680 482.48V485.08M697.8 482.48V485.08M698.5 482.48V485.08M700.2 482.48V485.08M707.8 482.48V485.08M709.5 482.48V485.08M714 482.48V485.08M729 482.48V485.08M731.5 482.48V485.08M733.5 482.48V485.08M738.5 482.48V485.08M752.8 482.48V485.08M760.2 482.48V485.08M764 482.48V485.08M772 482.48V485.08M774 482.48V485.08M796.5 482.48V485.08M804 482.48V485.08M806 482.48V485.08M812.8 482.48V485.08M816.5 482.48V485.08M825.2 482.48V485.08M835.2 482.48V485.08M847.2 482.48V485.08" fill="none" stroke="#111" stroke-width="0.4"/>
<path d="M529 490.1H529V489.82H557.4V487.74H603.3V485.31H864.3" fill="none" stroke="#1f3fff" stroke-width="1.25" stroke-linejoin="miter"/>
<path d="M529 488.52V491.12M531.3 488.52V491.12M533.6 488.52V491.12M535.9 488.52V491.12M538.2 488.52V491.12M540.5 488.52V491.12M542.8 488.52V491.12M545.1 488.52V491.12M547.4 488.52V491.12M549.7 488.52V491.12M552 488.52V491.12M554.3 488.52V491.12M556.6 488.52V491.12M558.9 486.44V489.04M561.2 486.44V489.04M563.5 486.44V489.04M565.8 486.44V489.04M568.1 486.44V489.04M570.4 486.44V489.04M572.7 486.44V489.04M575 486.44V489.04M577.3 486.44V489.04M579.6 486.44V489.04M581.9 486.44V489.04M584.2 486.44V489.04M586.5 486.44V489.04M588.8 486.44V489.04M591.1 486.44V489.04M593.4 486.44V489.04M595.7 486.44V489.04M598 486.44V489.04M600.3 486.44V489.04M602.6 486.44V489.04M615.3 484.01V486.61M617.4 484.01V486.61M619 484.01V486.61M620.8 484.01V486.61M622.7 484.01V486.61M627.6 484.01V486.61M630.1 484.01V486.61M637.5 484.01V486.61M644.3 484.01V486.61M647 484.01V486.61M651.7 484.01V486.61M659.1 484.01V486.61M678.2 484.01V486.61M679 484.01V486.61M680 484.01V486.61M697.8 484.01V486.61M698.5 484.01V486.61M700.2 484.01V486.61M707.8 484.01V486.61M709.5 484.01V486.61M714 484.01V486.61M729 484.01V486.61M731.5 484.01V486.61M733.5 484.01V486.61M738.5 484.01V486.61M752.8 484.01V486.61M760.2 484.01V486.61M764 484.01V486.61M772 484.01V486.61M774 484.01V486.61M796.5 484.01V486.61M804 484.01V486.61M806 484.01V486.61M812.8 484.01V486.61M816.5 484.01V486.61M825.2 484.01V486.61M835.2 484.01V486.61M847.2 484.01V486.61" fill="none" stroke="#1f3fff" stroke-width="0.4"/>
<path d="M499.7 490.1H608.3V477.33H864.3" fill="none" stroke="#ff2a1a" stroke-width="1.25" stroke-linejoin="miter"/>
<path d="M538 488.7V491.5M545 488.7V491.5M560 488.7V491.5M575 488.7V491.5M583 488.7V491.5M593 488.7V491.5M618 475.93V478.73M678.5 475.93V478.73M738.5 475.93V478.73M764.3 475.93V478.73M847.3 475.93V478.73" fill="none" stroke="#ff2a1a" stroke-width="0.5"/>
<rect x="482.5" y="344.5" width="382" height="152.5" fill="none" stroke="#b2b2b2" stroke-width="1"/>
<line x1="480.3" x2="482.5" y1="490.1" y2="490.1" stroke="#3c3c3c" stroke-width="0.6"/>
<text x="479.6" y="492.1" font-size="5" fill="#3c3c3c" text-anchor="end">0.0</text>
<line x1="480.3" x2="482.5" y1="462.34" y2="462.34" stroke="#3c3c3c" stroke-width="0.6"/>
<text x="479.6" y="464.34" font-size="5" fill="#3c3c3c" text-anchor="end">0.2</text>
<line x1="480.3" x2="482.5" y1="434.58" y2="434.58" stroke="#3c3c3c" stroke-width="0.6"/>
<text x="479.6" y="436.58" font-size="5" fill="#3c3c3c" text-anchor="end">0.4</text>
<line x1="480.3" x2="482.5" y1="406.82" y2="406.82" stroke="#3c3c3c" stroke-width="0.6"/>
<text x="479.6" y="408.82" font-size="5" fill="#3c3c3c" text-anchor="end">0.6</text>
<line x1="480.3" x2="482.5" y1="379.06" y2="379.06" stroke="#3c3c3c" stroke-width="0.6"/>
<text x="479.6" y="381.06" font-size="5" fill="#3c3c3c" text-anchor="end">0.8</text>
<line x1="480.3" x2="482.5" y1="351.3" y2="351.3" stroke="#3c3c3c" stroke-width="0.6"/>
<text x="479.6" y="353.3" font-size="5" fill="#3c3c3c" text-anchor="end">1.0</text>
<line x1="499.7" x2="499.7" y1="497" y2="499.2" stroke="#3c3c3c" stroke-width="0.6"/>
<text x="499.7" y="503.6" font-size="5.1" fill="#3c3c3c" text-anchor="middle">0</text>
<line x1="557.62" x2="557.62" y1="497" y2="499.2" stroke="#3c3c3c" stroke-width="0.6"/>
<text x="557.62" y="503.6" font-size="5.1" fill="#3c3c3c" text-anchor="middle">2</text>
<line x1="615.54" x2="615.54" y1="497" y2="499.2" stroke="#3c3c3c" stroke-width="0.6"/>
<text x="615.54" y="503.6" font-size="5.1" fill="#3c3c3c" text-anchor="middle">4</text>
<line x1="673.46" x2="673.46" y1="497" y2="499.2" stroke="#3c3c3c" stroke-width="0.6"/>
<text x="673.46" y="503.6" font-size="5.1" fill="#3c3c3c" text-anchor="middle">6</text>
<line x1="731.38" x2="731.38" y1="497" y2="499.2" stroke="#3c3c3c" stroke-width="0.6"/>
<text x="731.38" y="503.6" font-size="5.1" fill="#3c3c3c" text-anchor="middle">8</text>
<line x1="789.3" x2="789.3" y1="497" y2="499.2" stroke="#3c3c3c" stroke-width="0.6"/>
<text x="789.3" y="503.6" font-size="5.1" fill="#3c3c3c" text-anchor="middle">10</text>
<line x1="847.22" x2="847.22" y1="497" y2="499.2" stroke="#3c3c3c" stroke-width="0.6"/>
<text x="847.22" y="503.6" font-size="5.1" fill="#3c3c3c" text-anchor="middle">12</text>
<text x="673.5" y="510.5" font-size="6.12" fill="#111" text-anchor="middle">Years after radiosurgery</text>
<text transform="translate(461.7 420.75) rotate(-90)" font-size="5.97" fill="#111" text-anchor="middle">Cumulative probability of facial palsy</text>
<text transform="translate(459.7 351) scale(0.91 1)" font-size="18" font-weight="bold" fill="#000">d</text>
<text x="482.2" y="523.3" font-size="7.24" fill="#111">Number at risk</text>
<line x1="528.66" x2="528.66" y1="527.5" y2="570.3" stroke="#f1f1f1" stroke-width="0.5"/>
<line x1="586.58" x2="586.58" y1="527.5" y2="570.3" stroke="#f1f1f1" stroke-width="0.5"/>
<line x1="644.5" x2="644.5" y1="527.5" y2="570.3" stroke="#f1f1f1" stroke-width="0.5"/>
<line x1="702.42" x2="702.42" y1="527.5" y2="570.3" stroke="#f1f1f1" stroke-width="0.5"/>
<line x1="760.34" x2="760.34" y1="527.5" y2="570.3" stroke="#f1f1f1" stroke-width="0.5"/>
<line x1="818.26" x2="818.26" y1="527.5" y2="570.3" stroke="#f1f1f1" stroke-width="0.5"/>
<line x1="482.5" x2="864.5" y1="542.02" y2="542.02" stroke="#f1f1f1" stroke-width="0.5"/>
<line x1="482.5" x2="864.5" y1="555.67" y2="555.67" stroke="#f1f1f1" stroke-width="0.5"/>
<line x1="499.7" x2="499.7" y1="527.5" y2="570.3" stroke="#e6e6e6" stroke-width="0.7"/>
<line x1="557.62" x2="557.62" y1="527.5" y2="570.3" stroke="#e6e6e6" stroke-width="0.7"/>
<line x1="615.54" x2="615.54" y1="527.5" y2="570.3" stroke="#e6e6e6" stroke-width="0.7"/>
<line x1="673.46" x2="673.46" y1="527.5" y2="570.3" stroke="#e6e6e6" stroke-width="0.7"/>
<line x1="731.38" x2="731.38" y1="527.5" y2="570.3" stroke="#e6e6e6" stroke-width="0.7"/>
<line x1="789.3" x2="789.3" y1="527.5" y2="570.3" stroke="#e6e6e6" stroke-width="0.7"/>
<line x1="847.22" x2="847.22" y1="527.5" y2="570.3" stroke="#e6e6e6" stroke-width="0.7"/>
<line x1="482.5" x2="864.5" y1="535.25" y2="535.25" stroke="#e6e6e6" stroke-width="0.7"/>
<line x1="482.5" x2="864.5" y1="548.8" y2="548.8" stroke="#e6e6e6" stroke-width="0.7"/>
<line x1="482.5" x2="864.5" y1="562.55" y2="562.55" stroke="#e6e6e6" stroke-width="0.7"/>
<rect x="482.5" y="527.5" width="382" height="42.8" fill="none" stroke="#b2b2b2" stroke-width="1"/>
<text x="499.7" y="538.1" font-size="7.1" fill="#111" text-anchor="middle">176</text>
<text x="557.62" y="538.1" font-size="7.1" fill="#111" text-anchor="middle">142</text>
<text x="615.54" y="538.1" font-size="7.1" fill="#111" text-anchor="middle">60</text>
<text x="673.46" y="538.1" font-size="7.1" fill="#111" text-anchor="middle">38</text>
<text x="731.38" y="538.1" font-size="7.1" fill="#111" text-anchor="middle">30</text>
<text x="789.3" y="538.1" font-size="7.1" fill="#111" text-anchor="middle">19</text>
<text x="847.22" y="538.1" font-size="7.1" fill="#111" text-anchor="middle">10</text>
<text x="480" y="536.95" font-size="4.9" fill="#111" stroke="#111" stroke-width="0.1" text-anchor="end">Overall</text>
<text x="499.7" y="551.65" font-size="7.1" fill="#111" text-anchor="middle">153</text>
<text x="557.62" y="551.65" font-size="7.1" fill="#111" text-anchor="middle">122</text>
<text x="615.54" y="551.65" font-size="7.1" fill="#111" text-anchor="middle">50</text>
<text x="673.46" y="551.65" font-size="7.1" fill="#111" text-anchor="middle">29</text>
<text x="731.38" y="551.65" font-size="7.1" fill="#111" text-anchor="middle">22</text>
<text x="789.3" y="551.65" font-size="7.1" fill="#111" text-anchor="middle">13</text>
<text x="847.22" y="551.65" font-size="7.1" fill="#111" text-anchor="middle">4</text>
<text x="480" y="550.5" font-size="4.9" fill="#111" stroke="#111" stroke-width="0.1" text-anchor="end">&lt; 13Gy</text>
<text x="499.7" y="565.4" font-size="7.1" fill="#111" text-anchor="middle">23</text>
<text x="557.62" y="565.4" font-size="7.1" fill="#111" text-anchor="middle">20</text>
<text x="615.54" y="565.4" font-size="7.1" fill="#111" text-anchor="middle">10</text>
<text x="673.46" y="565.4" font-size="7.1" fill="#111" text-anchor="middle">9</text>
<text x="731.38" y="565.4" font-size="7.1" fill="#111" text-anchor="middle">8</text>
<text x="789.3" y="565.4" font-size="7.1" fill="#111" text-anchor="middle">6</text>
<text x="847.22" y="565.4" font-size="7.1" fill="#111" text-anchor="middle">6</text>
<text x="480" y="564.25" font-size="4.9" fill="#111" stroke="#111" stroke-width="0.1" text-anchor="end">≥13Gy</text>
<text x="482.2" y="584.3" font-size="7.24" fill="#111">Cumulative censored number</text>
<line x1="528.66" x2="528.66" y1="588.5" y2="631.5" stroke="#f1f1f1" stroke-width="0.5"/>
<line x1="586.58" x2="586.58" y1="588.5" y2="631.5" stroke="#f1f1f1" stroke-width="0.5"/>
<line x1="644.5" x2="644.5" y1="588.5" y2="631.5" stroke="#f1f1f1" stroke-width="0.5"/>
<line x1="702.42" x2="702.42" y1="588.5" y2="631.5" stroke="#f1f1f1" stroke-width="0.5"/>
<line x1="760.34" x2="760.34" y1="588.5" y2="631.5" stroke="#f1f1f1" stroke-width="0.5"/>
<line x1="818.26" x2="818.26" y1="588.5" y2="631.5" stroke="#f1f1f1" stroke-width="0.5"/>
<line x1="482.5" x2="864.5" y1="603.12" y2="603.12" stroke="#f1f1f1" stroke-width="0.5"/>
<line x1="482.5" x2="864.5" y1="616.77" y2="616.77" stroke="#f1f1f1" stroke-width="0.5"/>
<line x1="499.7" x2="499.7" y1="588.5" y2="631.5" stroke="#e6e6e6" stroke-width="0.7"/>
<line x1="557.62" x2="557.62" y1="588.5" y2="631.5" stroke="#e6e6e6" stroke-width="0.7"/>
<line x1="615.54" x2="615.54" y1="588.5" y2="631.5" stroke="#e6e6e6" stroke-width="0.7"/>
<line x1="673.46" x2="673.46" y1="588.5" y2="631.5" stroke="#e6e6e6" stroke-width="0.7"/>
<line x1="731.38" x2="731.38" y1="588.5" y2="631.5" stroke="#e6e6e6" stroke-width="0.7"/>
<line x1="789.3" x2="789.3" y1="588.5" y2="631.5" stroke="#e6e6e6" stroke-width="0.7"/>
<line x1="847.22" x2="847.22" y1="588.5" y2="631.5" stroke="#e6e6e6" stroke-width="0.7"/>
<line x1="482.5" x2="864.5" y1="596.35" y2="596.35" stroke="#e6e6e6" stroke-width="0.7"/>
<line x1="482.5" x2="864.5" y1="609.9" y2="609.9" stroke="#e6e6e6" stroke-width="0.7"/>
<line x1="482.5" x2="864.5" y1="623.65" y2="623.65" stroke="#e6e6e6" stroke-width="0.7"/>
<rect x="482.5" y="588.5" width="382" height="43" fill="none" stroke="#b2b2b2" stroke-width="1"/>
<text x="499.7" y="599.2" font-size="7.1" fill="#111" text-anchor="middle">0</text>
<text x="557.62" y="599.2" font-size="7.1" fill="#111" text-anchor="middle">59</text>
<text x="615.54" y="599.2" font-size="7.1" fill="#111" text-anchor="middle">122</text>
<text x="673.46" y="599.2" font-size="7.1" fill="#111" text-anchor="middle">134</text>
<text x="731.38" y="599.2" font-size="7.1" fill="#111" text-anchor="middle">146</text>
<text x="789.3" y="599.2" font-size="7.1" fill="#111" text-anchor="middle">153</text>
<text x="847.22" y="599.2" font-size="7.1" fill="#111" text-anchor="middle">163</text>
<text x="480" y="598.05" font-size="4.9" fill="#111" stroke="#111" stroke-width="0.1" text-anchor="end">Overall</text>
<text x="499.7" y="612.75" font-size="7.1" fill="#111" text-anchor="middle">0</text>
<text x="557.62" y="612.75" font-size="7.1" fill="#111" text-anchor="middle">53</text>
<text x="615.54" y="612.75" font-size="7.1" fill="#111" text-anchor="middle">110</text>
<text x="673.46" y="612.75" font-size="7.1" fill="#111" text-anchor="middle">121</text>
<text x="731.38" y="612.75" font-size="7.1" fill="#111" text-anchor="middle">132</text>
<text x="789.3" y="612.75" font-size="7.1" fill="#111" text-anchor="middle">137</text>
<text x="847.22" y="612.75" font-size="7.1" fill="#111" text-anchor="middle">146</text>
<text x="480" y="611.6" font-size="4.9" fill="#111" stroke="#111" stroke-width="0.1" text-anchor="end">&lt; 13Gy</text>
<text x="499.7" y="626.5" font-size="7.1" fill="#111" text-anchor="middle">0</text>
<text x="557.62" y="626.5" font-size="7.1" fill="#111" text-anchor="middle">6</text>
<text x="615.54" y="626.5" font-size="7.1" fill="#111" text-anchor="middle">12</text>
<text x="673.46" y="626.5" font-size="7.1" fill="#111" text-anchor="middle">13</text>
<text x="731.38" y="626.5" font-size="7.1" fill="#111" text-anchor="middle">14</text>
<text x="789.3" y="626.5" font-size="7.1" fill="#111" text-anchor="middle">16</text>
<text x="847.22" y="626.5" font-size="7.1" fill="#111" text-anchor="middle">17</text>
<text x="480" y="625.35" font-size="4.9" fill="#111" stroke="#111" stroke-width="0.1" text-anchor="end">≥13Gy</text>
</svg>
<div class="cap" style="left:23px;top:661.1px;width:409px;">
<div class="ln" style="top:0"><b class="s">Fig.&hairsp;&thinsp;1</b>&nbsp; Kaplan&ndash;Meier plots for tumor control rate (<b>a</b>), probability of</div>
<div class="ln" style="top:17px">serviceable hearing loss at last follow-up between patients with pre-</div>
<div class="ln" style="top:34px">SRS GR class I and II (<b>b</b>), probability of serviceable hearing loss at</div>
</div>
<div class="cap" style="left:461px;top:661.1px;width:409px;">
<div class="ln" style="top:0">last follow-up between patients with cochlea dose&thinsp;&lt;&thinsp;4 Gy or&thinsp;&ge;&thinsp;4 Gy</div>
<div class="ln" style="top:17px">(<b>c</b>), probability of facial palsy between patients treated with&thinsp;&ge;&thinsp;13 Gy</div>
<div class="ln l" style="top:34px">and&thinsp;&lt;&thinsp;13 Gy (<b>d</b>)</div>
</div>
<svg width="892" height="726" viewBox="0 0 892 726" style="position:absolute;left:0;top:0;pointer-events:none" font-family='"Liberation Sans", sans-serif'>
<path d="M712.89 692.41A12 10 0 1 0 707.68 689.59L707.2 693.8Z" fill="rgba(255,255,255,0.9)" stroke="#8a8a8a" stroke-width="0.7" stroke-linejoin="round"/>
<path d="M736.50 695.39A10.9 9.7 0 1 0 731.77 698.13L735.6 700.4Z" fill="none" stroke="#fff" stroke-width="2.2"/>
<path d="M736.50 695.39A10.9 9.7 0 1 0 731.77 698.13L735.6 700.4Z" fill="rgba(255,255,255,0.9)" stroke="#8a8a8a" stroke-width="0.7" stroke-linejoin="round"/>
<rect x="778.5" y="665" width="7" height="10.5" fill="rgba(255,255,255,0.6)"/>
<circle cx="711.3" cy="676.4" r="0.9" fill="#9a9a9a"/>
<circle cx="721.4" cy="676.4" r="0.9" fill="#9a9a9a"/>
<circle cx="724.8" cy="685.8" r="0.9" fill="#9a9a9a"/>
<circle cx="732" cy="685.8" r="0.9" fill="#9a9a9a"/>
<text x="748.9" y="695.2" font-size="21.3" fill="#555" stroke="#555" stroke-width="1.0" textLength="49" lengthAdjust="spacingAndGlyphs">ICON</text>
<text x="748.4" y="694.7" font-size="21.3" fill="#fff" stroke="#fff" stroke-width="0.25" textLength="49" lengthAdjust="spacingAndGlyphs">ICON</text>
<g transform="translate(802.0 677.3) scale(0.198 0.212)"><path d="M30 4L8 46 M20 28V98 M30 30H60L57 88L48 83 M45 6V45Q44 75 30 96 M70 34H95V86H70Z" fill="none" stroke="#444" stroke-width="9.5" stroke-linecap="square" stroke-linejoin="miter"/></g>
<g transform="translate(822.5 677.3) scale(0.198 0.212)"><path d="M4 18H35 M8 48H33 M20 18V82 M2 90L38 76 M45 12H85L81 46 M57 12L51 48H96L92 88L80 84 M40 70H84" fill="none" stroke="#444" stroke-width="9.5" stroke-linecap="square" stroke-linejoin="miter"/></g>
<g transform="translate(843.3 677.3) scale(0.198 0.212)"><path d="M15 15H86L82 86L66 81 M49 15Q48 60 14 96" fill="none" stroke="#444" stroke-width="9.5" stroke-linecap="square" stroke-linejoin="miter"/></g>
<g transform="translate(801 676.3) scale(0.198 0.212)"><path d="M30 4L8 46 M20 28V98 M30 30H60L57 88L48 83 M45 6V45Q44 75 30 96 M70 34H95V86H70Z" fill="none" stroke="#fff" stroke-width="10.0" stroke-linecap="square" stroke-linejoin="miter"/></g>
<g transform="translate(821.5 676.3) scale(0.198 0.212)"><path d="M4 18H35 M8 48H33 M20 18V82 M2 90L38 76 M45 12H85L81 46 M57 12L51 48H96L92 88L80 84 M40 70H84" fill="none" stroke="#fff" stroke-width="10.0" stroke-linecap="square" stroke-linejoin="miter"/></g>
<g transform="translate(842.3 676.3) scale(0.198 0.212)"><path d="M15 15H86L82 86L66 81 M49 15Q48 60 14 96" fill="none" stroke="#fff" stroke-width="10.0" stroke-linecap="square" stroke-linejoin="miter"/></g>
</svg>
</body></html>
